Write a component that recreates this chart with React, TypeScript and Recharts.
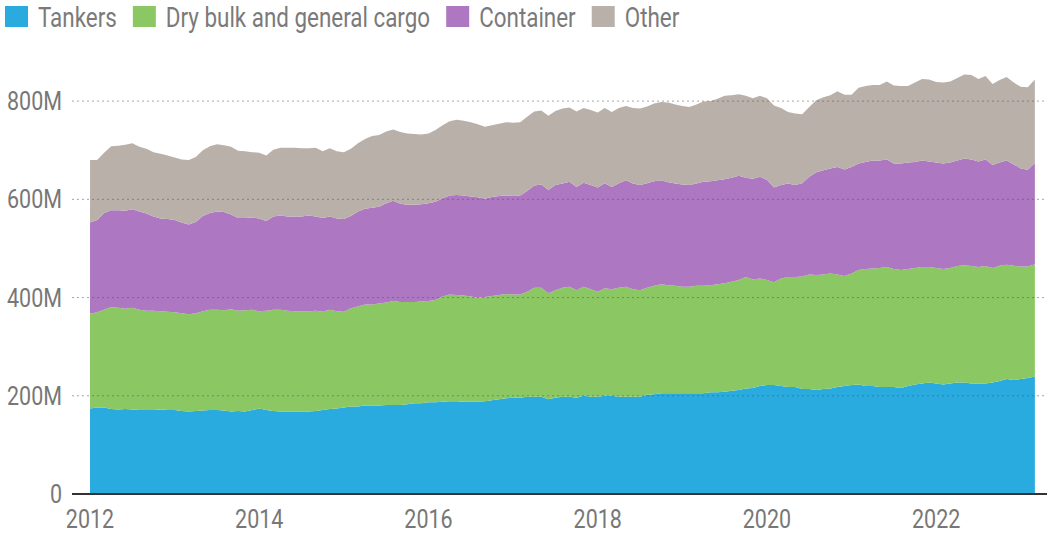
import React from "react";
import {
  AreaChart,
  Area,
  XAxis,
  YAxis,
  ReferenceLine,
} from "recharts";

// monthly, Jan 2012 .. Mar 2023 (million)
const startYear = 2012;

const tankers = [
  174, 176, 176, 173, 172, 173, 172, 171, 171, 171, 172, 171,
  171, 169, 168, 169, 170, 171, 171, 170, 168, 169, 168, 171,
  174, 171, 169, 168, 168, 168, 168, 168, 169, 171, 173, 174,
  176, 178, 178, 180, 180, 180, 181, 181, 181, 183, 185, 185,
  187, 187, 188, 189, 189, 188, 188, 188, 189, 191, 193, 195,
  196, 196, 198, 198, 198, 193, 196, 198, 198, 196, 200, 198,
  198, 200, 200, 198, 198, 198, 198, 202, 203, 205, 205, 205,
  205, 205, 205, 205, 207, 207, 208, 210, 212, 215, 216, 220,
  222, 222, 220, 218, 218, 214, 214, 212, 214, 215, 218, 220,
  222, 223, 220, 220, 218, 218, 218, 216, 220, 223, 225, 227,
  225, 223, 225, 227, 227, 225, 225, 225, 227, 230, 234, 232,
  234, 236, 239,
];

const dryBulk = [
  193, 194, 199, 208, 207, 204, 207, 204, 202, 202, 200, 200,
  199, 199, 198, 199, 202, 204, 204, 204, 208, 204, 206, 204,
  198, 202, 206, 207, 205, 204, 204, 204, 204, 200, 202, 198,
  195, 200, 204, 206, 206, 208, 209, 212, 210, 208, 206, 207,
  206, 208, 214, 217, 216, 216, 214, 212, 212, 212, 212, 212,
  210, 210, 214, 222, 222, 216, 219, 222, 224, 219, 222, 219,
  214, 219, 217, 222, 224, 219, 217, 218, 221, 222, 220, 219,
  217, 217, 219, 219, 218, 220, 221, 222, 224, 227, 221, 219,
  214, 209, 219, 224, 224, 229, 233, 234, 233, 234, 229, 224,
  227, 233, 238, 239, 242, 244, 240, 240, 238, 237, 237, 235,
  235, 235, 235, 237, 239, 239, 237, 239, 233, 235, 233, 233,
  229, 227, 229,
];

const container = [
  186, 188, 197, 197, 199, 200, 201, 200, 198, 192, 189, 189,
  188, 185, 183, 186, 194, 197, 200, 200, 193, 189, 188, 188,
  189, 183, 190, 192, 192, 193, 193, 195, 192, 191, 190, 189,
  189, 188, 193, 195, 197, 197, 202, 204, 200, 198, 198, 198,
  199, 200, 200, 202, 204, 204, 204, 204, 200, 202, 202, 201,
  201, 202, 205, 208, 210, 210, 214, 212, 214, 210, 212, 212,
  212, 214, 208, 213, 217, 215, 214, 213, 213, 212, 210, 208,
  208, 207, 208, 212, 212, 212, 212, 212, 212, 202, 205, 207,
  204, 193, 190, 190, 187, 190, 199, 209, 212, 214, 219, 217,
  217, 217, 218, 220, 219, 219, 215, 217, 217, 216, 217, 215,
  215, 215, 215, 215, 217, 217, 215, 217, 210, 210, 212, 206,
  200, 197, 206,
];

const other = [
  127, 122, 123, 130, 131, 134, 134, 132, 132, 131, 132, 129,
  127, 128, 131, 132, 134, 136, 137, 136, 138, 137, 136, 133,
  134, 133, 136, 138, 140, 140, 139, 137, 140, 136, 139, 137,
  136, 137, 139, 142, 146, 146, 146, 145, 146, 145, 144, 142,
  142, 146, 149, 151, 153, 152, 151, 149, 147, 146, 147, 149,
  149, 149, 151, 151, 151, 151, 151, 153, 151, 154, 152, 153,
  153, 153, 153, 153, 151, 154, 156, 156, 158, 159, 162, 161,
  160, 159, 161, 163, 163, 166, 170, 168, 166, 167, 164, 165,
  166, 167, 157, 146, 146, 140, 142, 147, 149, 149, 154, 152,
  147, 154, 155, 154, 154, 159, 159, 158, 156, 162, 166, 167,
  164, 165, 165, 168, 171, 172, 168, 170, 165, 168, 170, 167,
  166, 168, 170,
];

const yearTicks = [2012, 2014, 2016, 2018, 2020, 2022];
const valueTicks = [0, 200, 400, 600, 800];

const series = [
  { key: "tankers", name: "Tankers", color: "#29abe0" },
  { key: "dryBulk", name: "Dry bulk and general cargo", color: "#8bc863" },
  { key: "container", name: "Container", color: "#ad78c1" },
  { key: "other", name: "Other", color: "#bab0aa" },
];

const chartData = tankers.map((v, i) => ({
  t: startYear + i / 12,
  tankers: v,
  dryBulk: dryBulk[i],
  container: container[i],
  other: other[i],
}));

const FONT = "Roboto, 'Noto Sans', sans-serif";
const NARROW = 0.86;

function XTick({ x, y, payload }: any) {
  return (
    <g transform={`translate(${x},${y})`}>
      <text
        transform={`scale(${NARROW},1)`}
        textAnchor="middle"
        dy={26}
        fontSize={25}
        fontFamily={FONT}
        fill="#777"
      >
        {payload.value}
      </text>
    </g>
  );
}

function YTick({ x, y, payload }: any) {
  const label = payload.value === 0 ? "0" : `${payload.value}M`;
  return (
    <g transform={`translate(${x - 2},${y})`}>
      <text
        transform={`scale(${NARROW},1)`}
        textAnchor="end"
        dy={9}
        fontSize={25}
        fontFamily={FONT}
        fill="#777"
      >
        {label}
      </text>
    </g>
  );
}

function measure(text: string, size: number) {
  const ctx = document.createElement("canvas").getContext("2d");
  if (!ctx) return text.length * size * 0.5;
  ctx.font = `${size}px Roboto`;
  return ctx.measureText(text).width;
}

function TopLegend() {
  const squareW = 23;
  const scale = 0.8;
  let cursor = 5;
  const items = series.map((s) => {
    const sx = cursor;
    const tx = sx + squareW + 10;
    const w = measure(s.name, 28) * scale;
    cursor = tx + w + 16;
    return { ...s, sx, tx };
  });
  return (
    <svg
      width={1047}
      height={40}
      style={{ position: "absolute", left: 0, top: 0 }}
    >
      {items.map((it) => (
        <g key={it.key}>
          <rect x={it.sx} y={6} width={squareW} height={21} fill={it.color} />
          <g transform={`translate(${it.tx},27)`}>
            <text
              transform={`scale(${scale},1)`}
              fontSize={28}
              fontFamily={FONT}
              fill="#7a7a7a"
            >
              {it.name}
            </text>
          </g>
        </g>
      ))}
    </svg>
  );
}

export default function App() {
  return (
    <div
      style={{
        position: "absolute",
        left: 0,
        top: 0,
        width: 1047,
        height: 541,
        background: "#fff",
      }}
    >
      <TopLegend />
      <AreaChart
        width={1047}
        height={541}
        data={chartData}
        margin={{ top: 52, right: 0, bottom: 0, left: 0 }}
      >
        <XAxis
          dataKey="t"
          type="number"
          domain={[2011.787, 2023.31]}
          ticks={yearTicks}
          allowDataOverflow
          height={47}
          tickLine={false}
          axisLine={false}
          tick={<XTick />}
        />
        <YAxis
          type="number"
          domain={[0, 900]}
          ticks={valueTicks}
          width={72}
          tickLine={false}
          axisLine={false}
          tick={<YTick />}
        />
        {series.map((s) => (
          <Area
            key={s.key}
            type="linear"
            dataKey={s.key}
            name={s.name}
            stackId="1"
            stroke="none"
            fill={s.color}
            fillOpacity={1}
            isAnimationActive={false}
          />
        ))}
        {valueTicks
          .filter((v) => v > 0)
          .map((v) => (
            <ReferenceLine
              key={v}
              y={v}
              stroke="rgba(90,90,90,0.55)"
              strokeDasharray="2 3"
              strokeWidth={1}
            />
          ))}
        <ReferenceLine y={0} stroke="#333" strokeWidth={2} />
      </AreaChart>
    </div>
  );
}
